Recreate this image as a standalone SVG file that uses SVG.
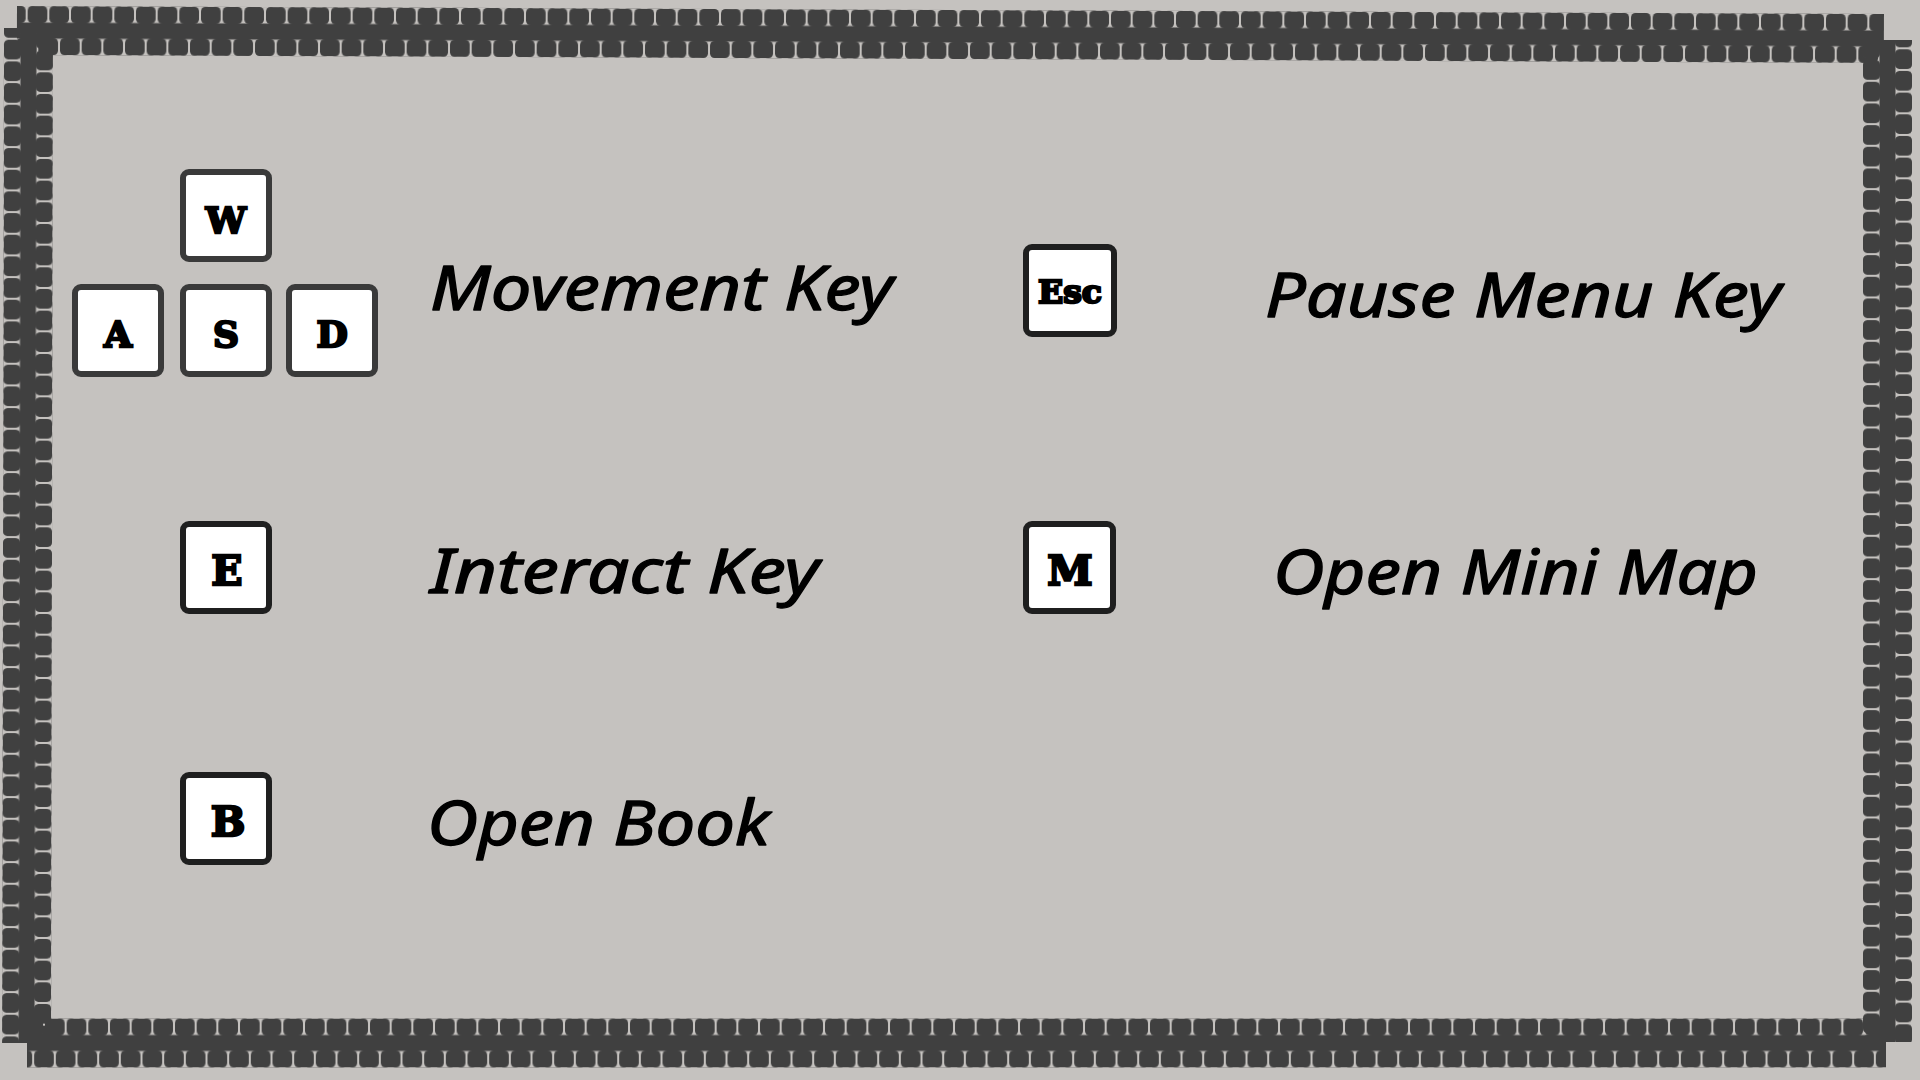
<svg xmlns="http://www.w3.org/2000/svg" width="1920" height="1080" viewBox="0 0 1920 1080">
  <defs>
    <style>
      .band { fill: url(#tabs); }
      .key { fill: #ffffff; stroke: #1f1f1f; stroke-width: 6; }
      .key.soft { stroke: #3a3a3a; }
      .cap { font-family: "DejaVu Serif", "Liberation Serif", serif; font-weight: bold; fill: #000; stroke: #000; stroke-width: 2.4; stroke-linejoin: miter; text-anchor: middle; }
      .cap.small { font-size: 36px; }
      .cap.big { font-size: 41px; }
      .label { font-family: "Noto Sans", "DejaVu Sans", sans-serif; font-style: italic; font-size: 62px; fill: #000; stroke: #000; stroke-width: 1.3; stroke-linejoin: round; }
    </style>
    <pattern id="tabs" patternUnits="userSpaceOnUse" width="21.667" height="49">
      <rect x="0" y="16.5" width="21.667" height="16" fill="#404040"/>
      <rect x="1" y="0" width="19.667" height="17" rx="4.5" fill="#404040"/>
      <rect x="11.833" y="32" width="19.667" height="17" rx="4.5" fill="#404040"/>
      <rect x="-9.834" y="32" width="19.667" height="17" rx="4.5" fill="#404040"/>
    </pattern>
  </defs>

  <rect x="0" y="0" width="1920" height="1080" fill="#c5c2bf"/>

  <g id="frame">
    <g id="band-top" transform="translate(17 6) rotate(0.245)">
      <g transform="translate(9.7 0)"><rect class="band" x="-9.7" y="0" width="1867" height="49"/></g>
    </g>
    <g id="band-left" transform="translate(53 28) rotate(90.11)">
      <g transform="translate(0 0)"><rect class="band" x="0" y="0" width="1015" height="49"/></g>
    </g>
    <g id="band-right" transform="translate(1912 40) rotate(90)">
      <g transform="translate(8.3 0)"><rect class="band" x="-8.3" y="0" width="1002" height="49"/></g>
    </g>
    <g id="band-bottom" transform="translate(27 1018.5)">
      <g transform="translate(17 0)"><rect class="band" x="-17" y="0" width="1859" height="49"/></g>
    </g>
  </g>

  <g id="node-movement">
    <g id="key-w"><rect class="key soft" x="183" y="172" width="86" height="87" rx="6"/><text class="cap small" x="226" y="233">W</text></g>
    <g id="key-a"><rect class="key soft" x="75" y="287" width="86" height="87" rx="6"/><text class="cap small" x="118" y="347">A</text></g>
    <g id="key-s"><rect class="key soft" x="183" y="287" width="86" height="87" rx="6"/><text class="cap small" x="226" y="347">S</text></g>
    <g id="key-d"><rect class="key soft" x="289" y="287" width="86" height="87" rx="6"/><text class="cap small" x="332" y="347">D</text></g>
    <text class="label" x="430" y="310" textLength="463" lengthAdjust="spacingAndGlyphs">Movement Key</text>
  </g>

  <g id="node-pause">
    <rect class="key" x="1026" y="247" width="88" height="87" rx="6"/>
    <text class="cap" x="1070" y="303" font-size="32" textLength="64" lengthAdjust="spacingAndGlyphs">Esc</text>
    <text class="label" x="1265" y="317" textLength="516" lengthAdjust="spacingAndGlyphs">Pause Menu Key</text>
  </g>

  <g id="node-interact">
    <rect class="key" x="183" y="524" width="86" height="87" rx="6"/>
    <text class="cap big" x="227" y="585">E</text>
    <text class="label" x="430" y="593" textLength="389" lengthAdjust="spacingAndGlyphs">Interact Key</text>
  </g>

  <g id="node-minimap">
    <rect class="key" x="1026" y="524" width="87" height="87" rx="6"/>
    <text class="cap big" x="1070" y="585">M</text>
    <text class="label" x="1273" y="594" textLength="485" lengthAdjust="spacingAndGlyphs">Open Mini Map</text>
  </g>

  <g id="node-book">
    <rect class="key" x="183" y="775" width="86" height="87" rx="6"/>
    <text class="cap big" x="228" y="836">B</text>
    <text class="label" x="427" y="845" textLength="343" lengthAdjust="spacingAndGlyphs">Open Book</text>
  </g>
</svg>
